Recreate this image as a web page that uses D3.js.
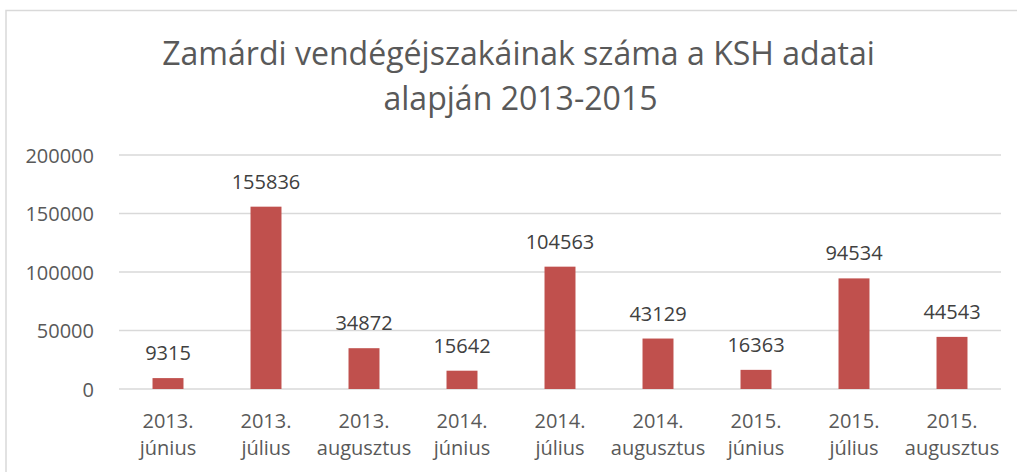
<!DOCTYPE html>
<html><head><meta charset="utf-8">
<script src="https://cdn.jsdelivr.net/npm/d3@7"></script>
<style>
html,body{margin:0;padding:0;background:#fff;}
svg{display:block;font-family:"Open Sans",sans-serif;}
</style></head>
<body>
<svg id="chart" width="1017" height="472"></svg>
<script>
const titleLines = ["Zamárdi vendégéjszakáinak száma a KSH adatai", "alapján 2013-2015"];
const categories = [
  ["2013.", "június"], ["2013.", "július"], ["2013.", "augusztus"],
  ["2014.", "június"], ["2014.", "július"], ["2014.", "augusztus"],
  ["2015.", "június"], ["2015.", "július"], ["2015.", "augusztus"]
];
const values = [9315, 155836, 34872, 15642, 104563, 43129, 16363, 94534, 44543];
const yTicks = [0, 50000, 100000, 150000, 200000];

const svg = d3.select("#chart");
const plotLeft = 119, plotRight = 1001, plotTop = 155, plotBottom = 389;

// chart area border
svg.append("rect").attr("x", 6).attr("y", 10.5).attr("width", 1030).attr("height", 500)
  .attr("fill", "#fff").attr("stroke", "#d9d9d9").attr("stroke-width", 1.5);

const x = d3.scaleBand().domain(d3.range(categories.length)).range([plotLeft, plotRight]).paddingInner(0.684).paddingOuter(0.342);
const y = d3.scaleLinear().domain([0, 200000]).range([plotBottom, plotTop]);

// gridlines
svg.append("g").selectAll("line").data(yTicks).join("line")
  .attr("x1", plotLeft).attr("x2", plotRight)
  .attr("y1", d => y(d)).attr("y2", d => y(d))
  .attr("stroke", "#d9d9d9").attr("stroke-width", 1.3);

// y axis labels
const yAxis = d3.axisLeft(y).tickValues(yTicks).tickFormat(d3.format("d")).tickSize(0).tickPadding(0);
const ya = svg.append("g").attr("transform", `translate(94,0)`).call(yAxis);
ya.select(".domain").remove();
ya.selectAll("text").attr("font-family", "Open Sans").attr("font-size", 20).attr("fill", "#595959").attr("dy", "0.35em");

// bars
svg.append("g").selectAll("rect").data(values).join("rect")
  .attr("x", (d, i) => x(i)).attr("width", x.bandwidth())
  .attr("y", d => y(d)).attr("height", d => y(0) - y(d))
  .attr("fill", "#C0504D");

// data labels
svg.append("g").selectAll("text").data(values).join("text")
  .attr("x", (d, i) => x(i) + x.bandwidth() / 2)
  .attr("y", d => y(d) - 18)
  .attr("text-anchor", "middle").attr("font-size", 20).attr("fill", "#404040")
  .text(d => d);

// category labels
const cat = svg.append("g").selectAll("text").data(categories).join("text")
  .attr("text-anchor", "middle").attr("font-size", 20).attr("fill", "#595959");
cat.append("tspan").attr("x", (d, i) => x(i) + x.bandwidth() / 2).attr("y", 428).text(d => d[0]);
cat.append("tspan").attr("x", (d, i) => x(i) + x.bandwidth() / 2).attr("y", 455).text(d => d[1]);

// title
const tg = svg.append("g");
const tcx = (162 + 875) / 2;
const t1 = tg.append("text").attr("x", tcx).attr("y", 65).attr("text-anchor", "middle")
  .attr("font-size", 30).attr("fill", "#595959").text(titleLines[0]);
const measured = t1.node().getComputedTextLength();
const fs = 30 * 713 / measured;
t1.attr("font-size", fs);
tg.append("text").attr("x", tcx + 2).attr("y", 110).attr("text-anchor", "middle")
  .attr("font-size", fs).attr("fill", "#595959").text(titleLines[1]);
</script>
</body></html>
